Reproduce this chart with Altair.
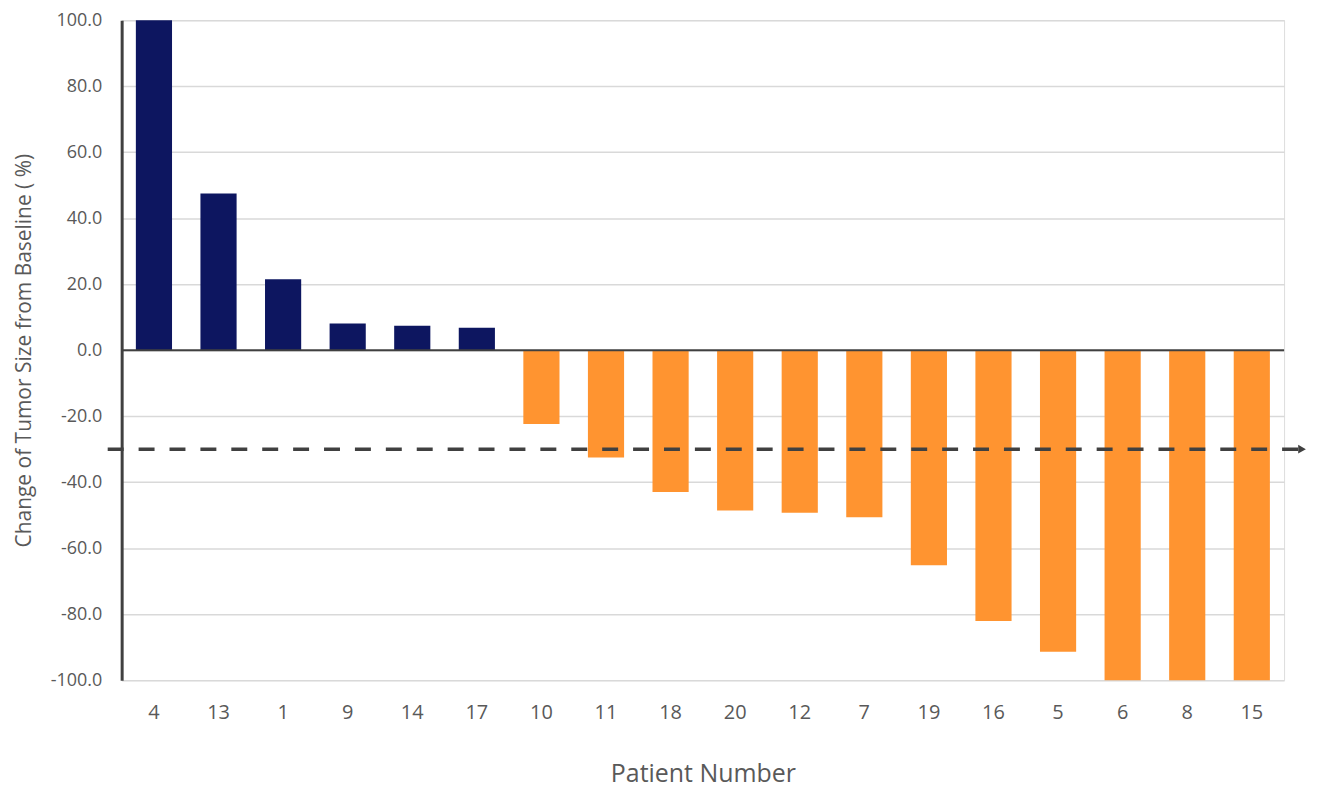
import altair as alt
import pandas as pd

patients = ["4", "13", "1", "9", "14", "17", "10", "11", "18", "20", "12", "7", "19", "16", "5", "6", "8", "15"]
changes = [100.0, 47.5, 21.5, 8.1, 7.4, 6.8, -22.4, -32.5, -43.0, -48.6, -49.3, -50.6, -65.2, -82.1, -91.4, -100.0, -100.0, -100.0]
groups = ["Increase" if v > 0 else "Decrease" for v in changes]
threshold = [-30.0]

df = pd.DataFrame({"patient": patients, "change": changes, "group": groups})
thr = pd.DataFrame({"y": threshold})

FONT = "Open Sans"
W, H = 1166, 662

x_enc = alt.X("patient:N", sort=patients,
              scale=alt.Scale(paddingInner=0.44, paddingOuter=0.22),
              axis=alt.Axis(title="Patient Number", labelAngle=0, domain=False, ticks=False,
                            labelPadding=22, labelFontSize=20, labelColor="#595959",
                            labelFont=FONT, titleFont=FONT, titleFontSize=25,
                            titleFontWeight="normal", titleColor="#595959", titlePadding=40))
y_scale = alt.Scale(domain=[-100, 100], nice=False)

bars = alt.Chart(df).mark_bar().encode(
    x=x_enc,
    y=alt.Y("change:Q", scale=y_scale,
            axis=alt.Axis(title="Change of Tumor Size from Baseline ( %)", values=list(range(-100, 101, 20)),
                          labelExpr="replace(format(datum.value, '.1f'), '\u2212', '-')",
                          domain=True, domainColor="#404040", domainWidth=3,
                          ticks=False, labelPadding=20, labelFontSize=18, labelColor="#595959",
                          labelFont=FONT, titleFont=FONT, titleFontSize=21,
                          titleFontWeight="normal", titleColor="#595959", titlePadding=16,
                          grid=True, gridColor="#d9d9d9", gridWidth=1.5)),
    color=alt.Color("group:N", scale=alt.Scale(domain=["Increase", "Decrease"],
                                                range=["#0d1660", "#ff9430"]), legend=None),
)

zero = alt.Chart(thr).mark_rule(color="#404040", strokeWidth=2).encode(
    y=alt.datum(0, scale=y_scale), x=alt.value(0), x2=alt.value(W)
)

dash = alt.Chart(thr).mark_rule(color="#404040", strokeWidth=3.5, strokeDash=[16, 15]).encode(
    y=alt.Y("y:Q", scale=y_scale), x=alt.value(-14), x2=alt.value(W + 14)
)

arrow = alt.Chart(thr).mark_point(shape="triangle-right", filled=True, color="#404040",
                                  size=80, opacity=1).encode(
    y=alt.Y("y:Q", scale=y_scale), x=alt.value(W + 18)
)

chart = alt.layer(bars, zero, dash, arrow).properties(
    width=W, height=H, autosize=alt.AutoSizeParams(type="none"),
    padding={"left": 114, "top": 11, "right": 30, "bottom": 116}
).configure_view(strokeWidth=0).configure(background="white")

chart.save("out.html", embed_options={"renderer": "svg", "actions": False})
